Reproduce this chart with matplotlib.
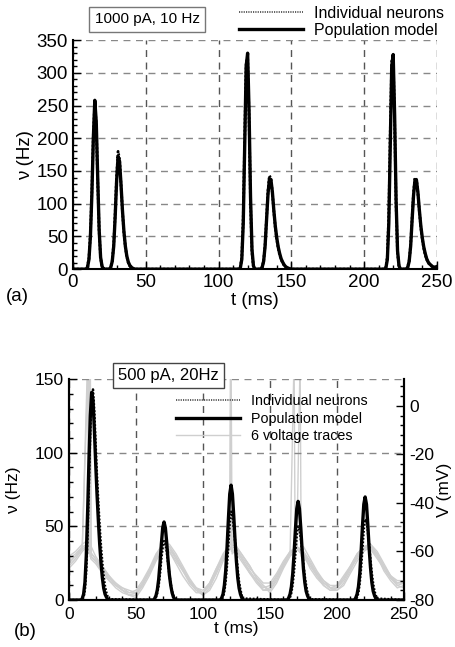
import matplotlib
matplotlib.use("Agg")
import matplotlib.pyplot as plt
from matplotlib.ticker import MultipleLocator
import numpy as np

plt.rcParams['font.family'] = ['Liberation Sans', 'DejaVu Sans']
plt.rcParams['axes.unicode_minus'] = False

# ---------------- panel (a): 1000 pA, 10 Hz ----------------
t_a = [0, 9, 10, 11, 12, 13, 14, 15, 16, 17, 18, 19, 20, 21, 22,
       25, 26, 27, 28, 29, 30, 31, 32, 33, 34, 35, 36, 37, 38, 39, 40, 41, 42, 43,
       114, 115, 116, 117, 118, 119, 120, 121, 122, 123, 124, 125,
       129, 130, 131, 132, 133, 134, 135, 136, 137, 138, 139, 140, 141, 142,
       143, 144, 145, 146, 147, 148, 149, 150,
       214, 215, 216, 217, 218, 219, 220, 221, 222, 223, 224, 225,
       229, 230, 231, 232, 233, 234, 235, 236, 237, 238, 239, 240, 241, 242,
       243, 244, 245, 246, 247, 248, 249, 250]
pop_a = [0, 0, 3, 15, 50, 115, 200, 258, 225, 140, 60, 18, 4, 0.5, 0,
         0, 3, 12, 35, 80, 135, 172, 165, 130, 90, 58, 35, 20, 11, 6, 3, 1.5, 0.5, 0,
         0, 2, 15, 70, 190, 310, 330, 240, 110, 30, 5, 0,
         0, 3, 12, 35, 75, 115, 138, 137, 118, 90, 66, 48, 34, 24,
         16, 11, 7, 4, 2.5, 1.5, 0.5, 0,
         0, 2, 15, 70, 190, 310, 328, 235, 105, 28, 5, 0,
         0, 3, 12, 35, 75, 113, 137, 136, 117, 90, 66, 48, 34, 24,
         16, 11, 8, 6, 4, 3, 3, 4]
ind_a = [0, 0, 4, 17, 55, 120, 205, 255, 220, 135, 58, 17, 4, 0.5, 0,
         0, 3, 13, 38, 85, 142, 180, 168, 130, 88, 56, 34, 19, 10, 5, 2.5, 1, 0.5, 0,
         0, 3, 18, 80, 200, 315, 325, 230, 100, 25, 4, 0,
         0, 3, 13, 37, 78, 120, 143, 138, 117, 88, 64, 46, 32, 22,
         15, 10, 6, 4, 2, 1, 0.5, 0,
         0, 3, 20, 85, 210, 318, 322, 225, 98, 24, 4, 0,
         0, 3, 13, 37, 78, 118, 140, 137, 116, 88, 64, 46, 32, 22,
         15, 10, 7, 5, 4, 3, 3, 4]

# ---------------- panel (b): 500 pA, 20 Hz ----------------
t_b = [0, 9, 10, 11, 12, 13, 14, 15, 16, 17, 18, 19, 20, 21, 22, 23, 24, 25,
       26, 27, 28, 29, 30,
       63, 64, 65, 66, 67, 68, 69, 70, 71, 72, 73, 74, 75, 76, 77, 78, 79, 80,
       113, 114, 115, 116, 117, 118, 119, 120, 121, 122, 123, 124, 125, 126,
       127, 128, 129, 130,
       163, 164, 165, 166, 167, 168, 169, 170, 171, 172, 173, 174, 175, 176,
       177, 178, 179, 180,
       213, 214, 215, 216, 217, 218, 219, 220, 221, 222, 223, 224, 225, 226,
       227, 228, 229, 230, 250]
pop_b = [0, 0, 1, 4, 12, 30, 60, 95, 125, 141, 136, 116, 93, 72, 54, 38, 25, 15,
         8, 4, 2, 0.5, 0,
         0, 1, 3, 7, 14, 25, 38, 49, 53, 49, 39, 27, 17, 10, 5, 2, 0.5, 0,
         0, 1.5, 4, 10, 20, 36, 55, 72, 78, 72, 57, 40, 26, 15,
         8, 4, 1.5, 0,
         0, 1.5, 4, 9, 18, 32, 48, 62, 67, 62, 49, 34, 21, 12,
         6, 3, 1, 0,
         0, 1.5, 4, 9, 18, 33, 50, 65, 70, 65, 51, 35, 22, 12,
         6, 3, 1, 0, 0]
ind_b = [0, 0, 0.5, 2, 7, 20, 45, 80, 115, 138, 143, 128, 105, 84, 66, 50, 36, 25,
         16, 9, 5, 2, 0.5,
         0, 0.5, 2, 5, 10, 18, 28, 36, 40, 39, 33, 25, 17, 11, 6, 3, 1, 0,
         0, 0.5, 2, 6, 13, 24, 38, 52, 60, 58, 50, 40, 30, 20,
         12, 7, 3, 1,
         0, 0.5, 2, 5, 11, 20, 32, 44, 50, 48, 42, 33, 24, 16,
         10, 5, 2, 0.5,
         0, 0.5, 2, 5, 12, 22, 35, 48, 55, 54, 47, 37, 27, 18,
         11, 6, 3, 1, 0]

# six membrane voltage traces (mV), sampled every 5 ms from 0 to 250 ms
t_v = list(range(0, 255, 5))
volt = [
    [-66, -63, -59, -57, -64, -68, -71, -73, -76, -78, -78, -74, -69, -63, -58, -60,
     -64, -68, -73, -76, -77, -74, -69, -63, -58, -61, -65, -69, -72, -75, -74, -70,
     -65, -61, -59, -62, -66, -70, -73, -75, -75, -72, -67, -63, -59, -59, -63, -67,
     -71, -73, -72],
    [-63, -61, -58, -56, -63, -67, -70, -74, -75, -77, -77, -73, -68, -62, -57, -58,
     -62, -67, -72, -76, -78, -75, -69, -62, -57, -59, -64, -68, -72, -76, -76, -71,
     -66, -61, -58, -60, -65, -70, -74, -76, -76, -73, -68, -62, -58, -58, -62, -67,
     -71, -74, -73],
    [-65, -62, -58, -57, -65, -69, -72, -74, -76, -78, -79, -75, -70, -64, -59, -59,
     -63, -67, -72, -75, -78, -76, -71, -64, -59, -58, -62, -66, -71, -74, -77, -73,
     -67, -62, -59, -58, -63, -68, -72, -75, -76, -74, -69, -64, -60, -58, -61, -66,
     -70, -74, -75],
    [-64, -62, -59, -56, -62, -66, -70, -73, -75, -76, -77, -74, -68, -62, -57, -57,
     -61, -66, -71, -75, -77, -74, -68, -62, -58, -59, -63, -67, -70, -73, -73, -69,
     -64, -60, -58, -61, -65, -69, -72, -74, -74, -70, -66, -61, -58, -57, -60, -65,
     -70, -72, -72],
    [-67, -64, -60, -57, -64, -68, -72, -75, -77, -78, -77, -73, -68, -63, -58, -60,
     -65, -70, -74, -77, -77, -73, -67, -62, -59, -60, -64, -69, -73, -76, -75, -70,
     -65, -60, -59, -61, -67, -71, -74, -76, -75, -71, -66, -61, -58, -59, -62, -68,
     -72, -75, -74],
    [-62, -60, -57, -55, -63, -67, -71, -74, -76, -77, -76, -72, -67, -61, -57, -58,
     -63, -68, -72, -75, -76, -73, -67, -61, -57, -58, -62, -66, -71, -74, -76, -72,
     -66, -61, -58, -60, -64, -69, -73, -75, -74, -71, -67, -62, -59, -57, -61, -66,
     -70, -73, -73],
]
# spikes: (trace, time of peak, peak mV, reset mV)
spikes = [(0, 15.0, 20, -62), (1, 14.5, 20, -60), (2, 15.5, 20, -63),
          (3, 14.0, 20, -61), (4, 16.0, 20, -62), (5, 15.0, 20, -60),
          (1, 120.5, 20, -60), (3, 121.0, 20, -61),
          (0, 168.0, 20, -61), (2, 172.5, 20, -62)]

fig = plt.figure(figsize=(4.56, 6.47), dpi=100)

grid_v = dict(color='#555555', linestyle=(0, (5, 4)), linewidth=1.0)
grid_h = dict(color='#888888', linestyle=(0, (5, 4)), linewidth=1.0)
dots = (0, (0.7, 0.7))

# ---------- (a) ----------
ax1 = fig.add_axes([0.160, 0.584, 0.798, 0.354])
ax1.plot(t_a, ind_a, color='black', linestyle=dots, linewidth=2.0,
         label='Individual neurons', zorder=3)
ax1.plot(t_a, pop_a, color='black', linewidth=2.4,
         label='Population model', zorder=4)
ax1.set_xlim(0, 250)
ax1.set_ylim(0, 350)
ax1.xaxis.set_major_locator(MultipleLocator(50))
ax1.xaxis.set_minor_locator(MultipleLocator(10))
ax1.yaxis.set_major_locator(MultipleLocator(50))
ax1.yaxis.set_minor_locator(MultipleLocator(10))
ax1.xaxis.grid(True, **grid_v)
ax1.yaxis.grid(True, **grid_h)
ax1.set_axisbelow(True)
for s in ['top', 'right']:
    ax1.spines[s].set_visible(False)
for s in ['left', 'bottom']:
    ax1.spines[s].set_linewidth(1.5)
ax1.tick_params(which='major', direction='in', length=6, width=1, labelsize=13.5)
ax1.tick_params(which='minor', direction='in', length=3, width=1)
ax1.set_xlabel('t (ms)', fontsize=13.5, labelpad=1)
ax1.set_ylabel('ν (Hz)', fontsize=13.5, labelpad=2)
h1, l1 = ax1.get_legend_handles_labels()
h1[0] = plt.Line2D([], [], color='#444444', linestyle=dots, linewidth=1.2)
fig.legend(h1, l1, loc='upper right',
           bbox_to_anchor=(1.005, 1.013), frameon=False, fontsize=11.5,
           handlelength=4.0, handletextpad=0.7, labelspacing=0.1)
fig.text(0.323, 0.970, '1000 pA, 10 Hz', fontsize=11, ha='center', va='center',
         bbox=dict(boxstyle='square,pad=0.35', facecolor='white',
                   edgecolor='#777777', linewidth=1.0))
fig.text(0.012, 0.542, '(a)', fontsize=13.5, ha='left', va='center')

# ---------- (b) ----------
ax2 = fig.add_axes([0.151, 0.0726, 0.735, 0.3414])
ax3 = ax2.twinx()
for i, v in enumerate(volt):
    pts = list(zip(t_v, v))
    for tr, ts, vp, vr in spikes:
        if tr == i:
            pts += [(ts, vp), (ts + 0.8, vr)]
    pts.sort()
    tt, vv = zip(*pts)
    ax3.plot(tt, vv, color='#cfcfcf', linewidth=1.0, zorder=1,
             label='6 voltage traces' if i == 0 else None)
ax3.set_ylim(-80, 11)
ax2.set_zorder(ax3.get_zorder() + 1)
ax2.patch.set_visible(False)

ax2.plot(t_b, ind_b, color='black', linestyle=dots, linewidth=1.8,
         label='Individual neurons', zorder=3)
ax2.plot(t_b, pop_b, color='black', linewidth=2.4,
         label='Population model', zorder=4)
ax2.set_xlim(0, 250)
ax2.set_ylim(0, 150)
ax2.xaxis.set_major_locator(MultipleLocator(50))
ax2.xaxis.set_minor_locator(MultipleLocator(10))
ax2.yaxis.set_major_locator(MultipleLocator(50))
ax2.yaxis.set_minor_locator(MultipleLocator(10))
ax2.xaxis.grid(True, **grid_v)
ax2.yaxis.grid(True, **grid_h)
ax3.yaxis.set_major_locator(MultipleLocator(20))
ax3.yaxis.set_minor_locator(MultipleLocator(4))
for a in (ax2, ax3):
    a.spines['top'].set_visible(False)
    for s in ['left', 'bottom', 'right']:
        a.spines[s].set_linewidth(1.5)
ax2.tick_params(which='major', direction='in', length=6, width=1, labelsize=12.5)
ax2.tick_params(which='minor', direction='in', length=3, width=1)
ax2.tick_params(axis='x', which='major', pad=5)
ax3.tick_params(which='major', direction='in', length=6, width=1, labelsize=12.5)
ax3.tick_params(which='minor', direction='in', length=3, width=1)
ax2.set_xlabel('t (ms)', fontsize=12.5, labelpad=-1)
ax2.set_ylabel('ν (Hz)', fontsize=12.5, labelpad=10)
ax3.set_ylabel('V (mV)', fontsize=12.5, labelpad=2)
h2, l2 = ax2.get_legend_handles_labels()
h2[0] = plt.Line2D([], [], color='#444444', linestyle=dots, linewidth=1.2)
h3, l3 = ax3.get_legend_handles_labels()
ax2.legend(h2 + h3, l2 + l3, loc='upper left', bbox_to_anchor=(0.28, 0.99),
           frameon=False, fontsize=10.3, handlelength=4.5, handletextpad=0.8,
           labelspacing=0.25)
fig.text(0.370, 0.420, '500 pA, 20Hz', fontsize=12, ha='center', va='center',
         bbox=dict(boxstyle='square,pad=0.3', facecolor='white',
                   edgecolor='#444444', linewidth=1.0))
fig.text(0.03, 0.024, '(b)', fontsize=13.5, ha='left', va='center')

fig.savefig('out.png', dpi=100)
